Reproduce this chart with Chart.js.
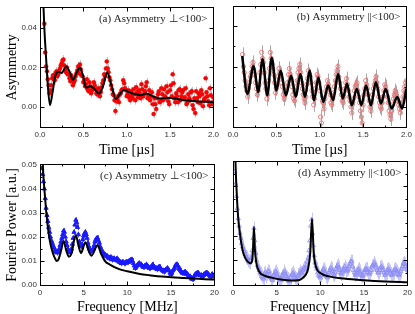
<!DOCTYPE html>
<html>
<head>
<meta charset="utf-8">
<script src="https://cdn.jsdelivr.net/npm/chart.js@4.4.0/dist/chart.umd.min.js"></script>
<style>
    html, body { margin: 0; padding: 0; background: #fff; }
    #wrap { position: relative; width: 415px; height: 314px; overflow: hidden; }
    .panel { position: absolute; }
</style>
</head>
<body>
<div id="wrap">
    <canvas class="panel" id="chart-a" width="222" height="160" style="left:0;top:0"></canvas>
    <canvas class="panel" id="chart-b" width="193" height="160" style="left:222px;top:0"></canvas>
    <canvas class="panel" id="chart-c" width="222" height="157" style="left:0;top:157px"></canvas>
    <canvas class="panel" id="chart-d" width="193" height="157" style="left:222px;top:157px"></canvas>
</div>
<script>
// 时间域数据 (µs)，两组交错采样
const timeGrid = [
    0.05,0.07,0.09,0.11,0.13,0.15,0.17,0.19,0.21,0.23,
    0.25,0.27,0.29,0.31,0.33,0.35,0.37,0.39,0.41,0.43,
    0.45,0.47,0.49,0.51,0.53,0.55,0.57,0.59,0.61,0.63,
    0.65,0.67,0.69,0.71,0.73,0.75,0.77,0.79,0.81,0.83,
    0.85,0.87,0.89,0.91,0.93,0.95,0.97,0.99,1.01,1.03,
    1.05,1.07,1.09,1.11,1.13,1.15,1.17,1.19,1.21,1.23,
    1.25,1.27,1.29,1.31,1.33,1.35,1.37,1.39,1.41,1.43,
    1.45,1.47,1.49,1.51,1.53,1.55,1.57,1.59,1.61,1.63,
    1.65,1.67,1.69,1.71,1.73,1.75,1.77,1.79,1.81,1.83,
    1.85,1.87,1.89,1.91,1.93,1.95,1.97,1.99
];
const timeGrid2 = [
    0.06,0.08,0.10,0.12,0.14,0.16,0.18,0.20,0.22,0.24,
    0.26,0.28,0.30,0.32,0.34,0.36,0.38,0.40,0.42,0.44,
    0.46,0.48,0.50,0.52,0.54,0.56,0.58,0.60,0.62,0.64,
    0.66,0.68,0.70,0.72,0.74,0.76,0.78,0.80,0.82,0.84,
    0.86,0.88,0.90,0.92,0.94,0.96,0.98,1.00,1.02,1.04,
    1.06,1.08,1.10,1.12,1.14,1.16,1.18,1.20,1.22,1.24,
    1.26,1.28,1.30,1.32,1.34,1.36,1.38,1.40,1.42,1.44,
    1.46,1.48,1.50,1.52,1.54,1.56,1.58,1.60,1.62,1.64,
    1.66,1.68,1.70,1.72,1.74,1.76,1.78,1.80,1.82,1.84,
    1.86,1.88,1.90,1.92,1.94,1.96,1.98,2.00
];
// (a) Asymmetry ⊥<100>
const asymPerp = [
    0.042,0.0205,0.014,0.007,0.011,0.016,0.0135,0.018,0.0165,0.0195,
    0.022,0.024,0.0185,0.020,0.0165,0.013,0.0145,0.0125,0.0155,0.0185,
    0.017,0.019,0.0155,0.0135,0.0115,0.009,0.0125,0.007,0.0095,0.011,
    0.007,0.0095,0.0055,0.010,0.0135,0.0155,0.023,0.0175,0.0135,0.009,
    0.006,-0.002,0.004,0.0025,0.007,0.009,0.012,0.0085,0.0065,0.005,
    0.008,0.0045,0.0065,0.010,0.005,0.007,0.0115,0.0055,0.008,0.0125,
    0.006,0.0035,0.0075,-0.0035,0.0015,0.0045,0.008,0.003,0.0065,0.009,
    0.0045,0.0075,0.0015,0.011,0.0165,0.0045,0.007,0.0025,0.009,0.0055,
    0.0085,0.005,0.0015,0.0065,0.0035,0.008,-0.001,-0.003,0.0045,0.007,
    0.002,0.0065,0.0035,0.0145,0.0055,0.001,0.006,0.0025
];
const asymPerp2 = [
    0.0275,0.018,0.011,0.0085,0.0145,0.014,0.017,0.0155,0.018,0.021,
    0.0235,0.021,0.0175,0.0165,0.0145,0.016,0.011,0.0135,0.017,0.0205,
    0.0215,0.016,0.0125,0.0105,0.014,0.008,0.0105,0.0085,0.0125,0.009,
    0.0065,0.0085,0.0075,0.012,0.0165,0.0195,0.0195,0.015,0.011,0.0065,
    0.0035,0.003,0.0055,0.0065,0.0085,0.0135,0.0095,0.0055,0.0085,0.0035,
    0.006,0.009,0.0035,0.0075,0.0085,0.0045,0.009,0.0065,0.0105,0.0045,
    0.0085,0.0055,0.0015,0.0045,-0.001,0.0065,0.0025,0.0095,0.0035,0.0055,
    0.0105,0.003,0.0085,0.0055,0.012,0.0025,0.0055,0.0085,0.0035,0.0075,
    0.004,0.0095,0.0025,0.0045,0.0075,0.001,0.0045,0.008,0.0025,0.0055,
    0.0085,0.0005,0.0045,0.0075,0.003,0.0095,0.0015,0.005
];
// (b) Asymmetry ‖<100>
const asymPara = [
    null,null,null,0.026,0.017,0.010,0.005,0.012,0.017,0.022,
    0.016,0.009,0.008,0.017,0.027,0.022,0.012,0.004,0.013,0.027,
    0.021,0.016,0.007,0.011,0.019,0.016,0.010,0.004,0.008,0.012,
    0.019,0.014,0.006,0.003,0.010,0.017,0.021,0.012,0.006,0.002,
    0.011,0.018,0.015,0.008,0.001,0.009,0.016,0.012,-0.005,0.003,
    -0.001,0.008,0.013,0.009,0.002,0.004,0.010,0.016,0.020,0.012,
    0.006,0.002,0.009,0.014,0.008,0.003,-0.003,0.004,0.010,0.012,
    0.005,-0.002,-0.008,0.006,0.013,0.009,0.003,-0.002,0.006,0.011,
    0.015,0.009,0.002,-0.001,0.005,0.011,0.008,0.002,-0.004,-0.002,
    0.004,0.008,0.005,0.001,-0.003,0.002,0.008,0.012
];
const asymPara2 = [
    null,null,null,0.020,0.013,0.008,0.009,0.015,0.020,0.018,
    0.012,0.006,0.011,0.021,0.024,0.017,0.009,0.006,0.019,0.024,
    0.018,0.012,0.009,0.015,0.017,0.012,0.006,0.006,0.010,0.016,
    0.016,0.010,0.004,0.006,0.013,0.019,0.017,0.009,0.004,0.005,
    0.014,0.016,0.012,0.005,0.004,0.012,0.015,0.008,-0.008,0.002,
    0.004,0.010,0.011,0.006,0.001,0.007,0.013,0.018,0.015,0.009,
    0.003,0.005,0.012,0.011,0.005,0.000,0.002,0.008,0.011,0.008,
    0.002,-0.005,0.001,0.009,0.011,0.006,0.000,0.002,0.009,0.013,
    0.012,0.005,0.000,0.002,0.008,0.010,0.005,-0.002,-0.006,0.001,
    0.006,0.007,0.003,-0.001,0.000,0.005,0.010,0.013
];
const errPerp = 0.0022;
const errPara = 0.0035;

// 拟合曲线 (时间域)
const fitTimePerp = [0.03,0.05,0.07,0.09,0.115,0.145,0.175,0.21,0.25,0.30,0.34,0.38,0.42,0.46,0.50,0.53,0.58,0.62,0.68,0.73,0.775,0.82,0.875,0.92,0.97,1.03,1.10,1.16,1.23,1.30,1.38,1.46,1.55,1.65,1.80,2.00];
const fitAsymPerp = [0.062,0.040,0.025,0.011,0.001,0.0075,0.0155,0.0178,0.0172,0.0205,0.018,0.0138,0.017,0.0200,0.0150,0.0098,0.0105,0.0095,0.0068,0.011,0.0174,0.0115,0.0041,0.0065,0.0086,0.0075,0.0065,0.006,0.0068,0.0055,0.0043,0.0047,0.0044,0.0036,0.003,0.0025];
const fitTimePara = [0.106,0.165,0.239,0.29,0.341,0.395,0.447,0.50,0.55,0.61,0.671,0.725,0.777,0.83,0.883,0.935,0.985,1.04,1.098,1.155,1.212,1.265,1.315,1.37,1.428,1.48,1.534,1.59,1.648,1.705,1.761,1.83,1.894,1.95,2.0];
const fitAsymPara = [0.0252,0.0065,0.0203,0.0073,0.0236,0.0057,0.0244,0.0081,0.0179,0.0057,0.0154,0.0049,0.0163,0.0049,0.0179,0.0033,0.0146,0.0024,0.0106,0.0033,0.0163,0.0041,0.0114,0.0008,0.0089,0.0008,0.0106,0.0008,0.0122,0.0016,0.0089,-0.0008,0.0049,-0.0008,0.0089];

// 频率域数据 (MHz)，两组交错采样
const freqGrid = [
    0.2,0.4,0.6,0.8,1.0,1.2,1.4,1.6,1.8,2.0,
    2.2,2.4,2.6,2.8,3.0,3.2,3.4,3.6,3.8,4.0,
    4.2,4.4,4.6,4.8,5.0,5.2,5.4,5.6,5.8,6.0,
    6.2,6.4,6.6,6.8,7.0,7.2,7.4,7.6,7.8,8.0,
    8.2,8.4,8.6,8.8,9.0,9.2,9.4,9.6,9.8,10.0,
    10.2,10.4,10.6,10.8,11.0,11.2,11.4,11.6,11.8,12.0,
    12.2,12.4,12.6,12.8,13.0,13.2,13.4,13.6,13.8,14.0,
    14.2,14.4,14.6,14.8,15.0,15.2,15.4,15.6,15.8,16.0,
    16.2,16.4,16.6,16.8,17.0,17.2,17.4,17.6,17.8,18.0,
    18.2,18.4,18.6,18.8,19.0,19.2,19.4,19.6,19.8,20.0
];
const freqGrid2 = [
    0.1,0.3,0.5,0.7,0.9,1.1,1.3,1.5,1.7,1.9,
    2.1,2.3,2.5,2.7,2.9,3.1,3.3,3.5,3.7,3.9,
    4.1,4.3,4.5,4.7,4.9,5.1,5.3,5.5,5.7,5.9,
    6.1,6.3,6.5,6.7,6.9,7.1,7.3,7.5,7.7,7.9,
    8.1,8.3,8.5,8.7,8.9,9.1,9.3,9.5,9.7,9.9,
    10.1,10.3,10.5,10.7,10.9,11.1,11.3,11.5,11.7,11.9,
    12.1,12.3,12.5,12.7,12.9,13.1,13.3,13.5,13.7,13.9,
    14.1,14.3,14.5,14.7,14.9,15.1,15.3,15.5,15.7,15.9,
    16.1,16.3,16.5,16.7,16.9,17.1,17.3,17.5,17.7,17.9,
    18.1,18.3,18.5,18.7,18.9,19.1,19.3,19.5,19.7,19.9
];
// (c) Fourier power ⊥<100>
const powerPerp = [
    0.0485,0.043,0.036,0.029,0.024,0.020,0.0175,0.0155,0.014,0.0135,
    0.015,0.018,0.021,0.022,0.018,0.015,0.0135,0.015,0.0195,0.025,
    0.026,0.021,0.0165,0.017,0.0205,0.022,0.0195,0.016,0.014,0.0145,
    0.0165,0.019,0.0195,0.0175,0.015,0.0135,0.0125,0.012,0.0115,0.0115,
    0.011,0.011,0.0105,0.011,0.010,0.0095,0.0095,0.009,0.0095,0.0095,
    0.010,0.0105,0.010,0.008,0.0075,0.0085,0.009,0.0085,0.0075,0.008,
    0.0085,0.0075,0.007,0.0075,0.008,0.007,0.0065,0.0075,0.007,0.006,
    0.0055,0.0065,0.007,0.006,0.0045,0.006,0.007,0.0085,0.008,0.0065,
    0.0055,0.005,0.0055,0.0045,0.004,0.0035,0.0025,0.003,0.0045,0.005,
    0.0045,0.004,0.0035,0.0045,0.005,0.0045,0.004,0.0035,0.004,0.0035
];
const powerPerp2 = [
    null,0.046,0.040,0.032,0.0265,0.022,0.0185,0.0165,0.0145,0.0135,
    0.014,0.0165,0.0195,0.0225,0.020,0.0165,0.014,0.014,0.017,0.022,
    0.027,0.024,0.018,0.016,0.019,0.0215,0.021,0.0175,0.015,0.014,
    0.015,0.018,0.0195,0.0185,0.016,0.014,0.013,0.0125,0.012,0.011,
    0.0115,0.0105,0.011,0.0105,0.0105,0.0095,0.009,0.0095,0.009,0.0095,
    0.0095,0.010,0.0105,0.009,0.007,0.008,0.009,0.0085,0.008,0.0075,
    0.008,0.008,0.007,0.0075,0.0085,0.0075,0.007,0.007,0.0075,0.0065,
    0.006,0.006,0.0065,0.0065,0.005,0.005,0.0065,0.008,0.0085,0.007,
    0.006,0.005,0.005,0.005,0.0045,0.0035,0.003,0.0025,0.004,0.0045,
    0.005,0.004,0.004,0.004,0.0045,0.005,0.0045,0.0035,0.0045,0.004
];
// (d) Fourier power ‖<100>
const powerPara = [
    0.046,0.036,0.027,0.021,0.017,0.0145,0.0125,0.011,0.0095,0.010,
    0.014,0.023,0.013,0.008,0.006,0.0045,0.003,0.0045,0.0035,0.0055,
    0.004,0.0025,0.0035,0.005,0.0045,0.003,0.002,0.0035,0.005,0.0045,
    0.003,0.002,0.003,0.0045,0.004,0.0025,0.0035,0.0045,0.005,0.006,
    0.0065,0.008,0.011,0.018,0.0265,0.016,0.009,0.0065,0.004,0.003,
    0.005,0.0065,0.0045,0.003,0.005,0.007,0.0055,0.004,0.0065,0.008,
    0.006,0.0045,0.006,0.0075,0.0055,0.0065,0.0085,0.0095,0.006,0.004,
    0.005,0.0065,0.0045,0.0035,0.005,0.0065,0.006,0.0045,0.006,0.008,
    0.009,0.007,0.005,0.006,0.0075,0.006,0.004,0.005,0.0065,0.0055,
    0.004,0.005,0.0065,0.0055,0.004,0.0055,0.0075,0.009,0.0075,0.006
];
const powerPara2 = [
    null,0.041,0.031,0.024,0.019,0.0155,0.0135,0.0115,0.010,0.009,
    0.011,0.019,0.018,0.010,0.007,0.005,0.0035,0.0025,0.005,0.0045,
    0.0055,0.003,0.002,0.004,0.0055,0.0035,0.0025,0.0025,0.004,0.0055,
    0.0035,0.0025,0.0015,0.004,0.005,0.003,0.002,0.004,0.0055,0.005,
    0.007,0.007,0.0095,0.014,0.024,0.021,0.012,0.0075,0.005,0.0035,
    0.004,0.006,0.0055,0.0035,0.004,0.006,0.0065,0.0045,0.005,0.0075,
    0.007,0.005,0.005,0.0065,0.0065,0.006,0.0075,0.0095,0.0075,0.005,
    0.0045,0.006,0.0055,0.004,0.004,0.006,0.0065,0.005,0.005,0.0075,
    0.0085,0.008,0.006,0.005,0.007,0.007,0.005,0.0045,0.006,0.006,
    0.0045,0.0045,0.006,0.006,0.0045,0.0045,0.0065,0.0085,0.0085,0.0065
];
const errPowerPerp = 0.0012;
const errPowerPara = 0.0028;

// 拟合曲线 (频率域)
const fitFreqPerp = [0.2,0.35,0.5,0.7,0.9,1.1,1.3,1.5,1.7,1.9,2.1,2.4,2.7,3.0,3.3,3.6,4.1,4.4,4.7,5.2,5.6,5.9,6.6,7.0,7.5,8.0,9.0,10.0,11.3,12.5,14.4,16.5,18.9,20.0];
const fitPowerPerp = [0.062,0.048,0.040,0.031,0.024,0.019,0.0155,0.013,0.0112,0.0100,0.0105,0.014,0.0183,0.0145,0.0118,0.0130,0.0208,0.0165,0.0133,0.0178,0.0140,0.0122,0.0165,0.0130,0.0097,0.0085,0.0067,0.0057,0.0047,0.0041,0.0034,0.0029,0.0024,0.0023];
const fitFreqPara = [0.2,0.3,0.46,0.6,0.77,0.95,1.15,1.4,1.72,2.0,2.2,2.3,2.4,2.5,2.67,3.05,3.6,4.4,5.5,6.6,7.4,7.8,8.3,8.6,8.85,9.05,9.25,9.5,10.1,11.0,12.7,15.0,17.5,20.0];
const fitPowerPara = [0.062,0.048,0.035,0.027,0.0215,0.017,0.0134,0.011,0.0094,0.0088,0.010,0.015,0.0235,0.015,0.009,0.0052,0.0038,0.003,0.0022,0.0018,0.0019,0.0024,0.0040,0.0065,0.013,0.0269,0.013,0.0075,0.0047,0.0035,0.0026,0.0019,0.0014,0.0011];

// 刻度
const timeTicks = [0, 0.5, 1.0, 1.5, 2.0];
const timeMinor = [0.25, 0.75, 1.25, 1.75];
const asymTicks = [0, 0.02, 0.04];
const asymMinor = [0.01, 0.03];
const freqTicks = [0, 5, 10, 15, 20];
const freqMinor = [2.5, 7.5, 12.5, 17.5];
const powerTicks = [0, 0.01, 0.02, 0.03, 0.04, 0.05];
const powerMinor = [0.005, 0.015, 0.025, 0.035, 0.045];

const tickFont = { family: '"Liberation Sans", Arial, sans-serif', size: 8 };
const titleFont = { family: '"Liberation Serif", "Times New Roman", serif', size: 14, lineHeight: 1 };

function toPoints(xs, ys) {
    return xs.map((x, i) => ({ x: x, y: ys[i] }));
}

/**
 * 面板装饰插件：误差棒、边框、内向刻度、标注文字
 */
function panelDecor(cfg) {
    return {
        id: 'panelDecor',
        beforeDatasetsDraw(chart) {
            const { ctx, chartArea: area, scales: { x, y } } = chart;
            ctx.save();
            ctx.beginPath();
            ctx.rect(area.left, area.top, area.right - area.left, area.bottom - area.top);
            ctx.clip();
            ctx.strokeStyle = cfg.errColor;
            ctx.lineWidth = 1;
            ctx.beginPath();
            cfg.xs.forEach((xv, i) => {
                const v = cfg.ys[i];
                if (v === null) return;
                const px = Math.round(x.getPixelForValue(xv)) + 0.5;
                ctx.moveTo(px, y.getPixelForValue(v - cfg.err));
                ctx.lineTo(px, y.getPixelForValue(v + cfg.err));
            });
            ctx.stroke();
            ctx.restore();
        },
        afterDraw(chart) {
            const { ctx, chartArea: area, scales: { x, y } } = chart;
            const L = Math.floor(area.left) + 0.5, R = Math.floor(area.right) + 0.5;
            const T = Math.floor(area.top) + 0.5, B = Math.floor(area.bottom) + 0.5;
            ctx.save();
            ctx.strokeStyle = '#000';
            ctx.lineWidth = 1;
            ctx.strokeRect(L, T, R - L, B - T);
            ctx.beginPath();
            const markX = (vals, len) => vals.forEach(v => {
                const px = Math.round(x.getPixelForValue(v)) + 0.5;
                if (px <= L + 1 || px >= R - 1) return;
                ctx.moveTo(px, B); ctx.lineTo(px, B - len);
                ctx.moveTo(px, T); ctx.lineTo(px, T + len);
            });
            const markY = (vals, len) => vals.forEach(v => {
                const py = Math.round(y.getPixelForValue(v)) + 0.5;
                if (py <= T + 1 || py >= B - 1) return;
                ctx.moveTo(L, py); ctx.lineTo(L + len, py);
                ctx.moveTo(R, py); ctx.lineTo(R - len, py);
            });
            markX(cfg.xMajor, 4); markX(cfg.xMinor, 2);
            markY(cfg.yMajor, 4); markY(cfg.yMinor, 2);
            ctx.stroke();
            ctx.fillStyle = '#222';
            ctx.font = '11px "Liberation Serif", "Times New Roman", serif';
            ctx.textAlign = 'right';
            ctx.textBaseline = 'middle';
            ctx.fillText(cfg.label, area.right - 6, area.top + 11);
            ctx.restore();
        }
    };
}

function makePanel(id, p) {
    const ctx = document.getElementById(id);
    return new Chart(ctx, {
        type: 'scatter',
        data: {
            datasets: [
                {
                    data: toPoints(p.fitX, p.fitY),
                    showLine: true,
                    borderColor: '#000',
                    borderWidth: p.lineWidth,
                    pointRadius: 0,
                    cubicInterpolationMode: 'monotone',
                    order: 0
                },
                {
                    data: toPoints(p.xs, p.ys),
                    pointStyle: p.pointStyle,
                    pointRadius: p.pointRadius,
                    backgroundColor: p.pointFill,
                    borderColor: p.pointBorder,
                    borderWidth: p.pointBorderWidth,
                    order: 1
                }
            ]
        },
        options: {
            responsive: false,
            animation: false,
            events: [],
            layout: { padding: { top: p.padTop, right: p.padRight, left: 0, bottom: 0 } },
            plugins: { legend: { display: false }, tooltip: { enabled: false } },
            scales: {
                x: {
                    type: 'linear',
                    min: p.xMin, max: p.xMax,
                    afterBuildTicks: s => { s.ticks = p.xMajor.map(v => ({ value: v })); },
                    afterFit: s => { s.height = p.xAxisHeight; },
                    grid: { display: false, drawTicks: false },
                    border: { display: false },
                    ticks: {
                        font: tickFont, color: '#333', padding: 3,
                        maxRotation: 0, autoSkip: false,
                        callback: v => p.xFmt(v)
                    },
                    title: { display: true, text: p.xTitle, font: titleFont, color: '#000', padding: { top: 0, bottom: p.xTitlePad } }
                },
                y: {
                    type: 'linear',
                    min: p.yMin, max: p.yMax,
                    afterBuildTicks: s => { s.ticks = p.yMajor.map(v => ({ value: v })); },
                    afterFit: s => { s.width = p.yAxisWidth; },
                    grid: { display: false, drawTicks: false },
                    border: { display: false },
                    ticks: {
                        display: p.yLabels,
                        font: tickFont, color: '#333', padding: 3,
                        callback: v => v.toFixed(2)
                    },
                    title: { display: !!p.yTitle, text: p.yTitle || '', font: titleFont, color: '#000', padding: { top: 5, bottom: 0 } }
                }
            }
        },
        plugins: [panelDecor({
            xs: p.xs, ys: p.ys, err: p.err, errColor: p.errColor,
            xMajor: p.xMajor, xMinor: p.xMinor, yMajor: p.yMajor, yMinor: p.yMinor,
            label: p.label
        })]
    });
}

const timeAxis = { xMin: 0, xMax: 2, xMajor: timeTicks, xMinor: timeMinor, xFmt: v => v.toFixed(1), xTitle: 'Time [\u00b5s]', xAxisHeight: 33, xTitlePad: 2.5, padTop: 6 };
const asymAxis = { yMin: -0.01, yMax: 0.05, yMajor: asymTicks, yMinor: asymMinor };
const freqAxis = { xMin: 0, xMax: 20, xMajor: freqTicks, xMinor: freqMinor, xFmt: v => String(v), xTitle: 'Frequency [MHz]', xAxisHeight: 29, xTitlePad: 0, padTop: 4 };
const powerAxis = { yMin: 0, yMax: 0.05, yMajor: powerTicks, yMinor: powerMinor };

makePanel('chart-a', Object.assign({}, timeAxis, asymAxis, {
    xs: timeGrid.concat(timeGrid2), ys: asymPerp.concat(asymPerp2),
    fitX: fitTimePerp, fitY: fitAsymPerp,
    err: errPerp, errColor: '#c4c4c4', lineWidth: 2,
    pointStyle: 'circle', pointRadius: 2, pointFill: '#ff0000', pointBorder: '#e00000', pointBorderWidth: 0.5,
    yAxisWidth: 40, padRight: 5, yLabels: true, yTitle: 'Asymmetry',
    label: '(a) Asymmetry \u22a5<100>'
}));

makePanel('chart-b', Object.assign({}, timeAxis, asymAxis, {
    xs: timeGrid.concat(timeGrid2), ys: asymPara.concat(asymPara2),
    fitX: fitTimePara, fitY: fitAsymPara,
    err: errPara, errColor: '#a8a8a8', lineWidth: 2.5,
    pointStyle: 'circle', pointRadius: 2.1, pointFill: 'rgba(255,255,255,0)', pointBorder: '#f07070', pointBorderWidth: 0.9,
    yAxisWidth: 11, padRight: 6, yLabels: false, yTitle: '',
    label: '(b) Asymmetry ||<100>'
}));

makePanel('chart-c', Object.assign({}, freqAxis, powerAxis, {
    xs: freqGrid.concat(freqGrid2), ys: powerPerp.concat(powerPerp2),
    fitX: fitFreqPerp, fitY: fitPowerPerp,
    err: errPowerPerp, errColor: '#4a4aff', lineWidth: 2,
    pointStyle: 'triangle', pointRadius: 2.4, pointFill: '#1a1aff', pointBorder: '#1a1aff', pointBorderWidth: 1,
    yAxisWidth: 40, padRight: 5, yLabels: true, yTitle: 'Fourier Power [a.u.]',
    label: '(c) Asymmetry \u22a5<100>'
}));

makePanel('chart-d', Object.assign({}, freqAxis, powerAxis, {
    xs: freqGrid.concat(freqGrid2), ys: powerPara.concat(powerPara2),
    fitX: fitFreqPara, fitY: fitPowerPara,
    err: errPowerPara, errColor: '#c6c6ff', lineWidth: 2,
    pointStyle: 'triangle', pointRadius: 2.5, pointFill: 'rgba(255,255,255,0)', pointBorder: '#8c8cf2', pointBorderWidth: 0.8,
    yAxisWidth: 11, padRight: 6, yLabels: false, yTitle: '',
    label: '(d) Asymmetry ||<100>'
}));
</script>
</body>
</html>
